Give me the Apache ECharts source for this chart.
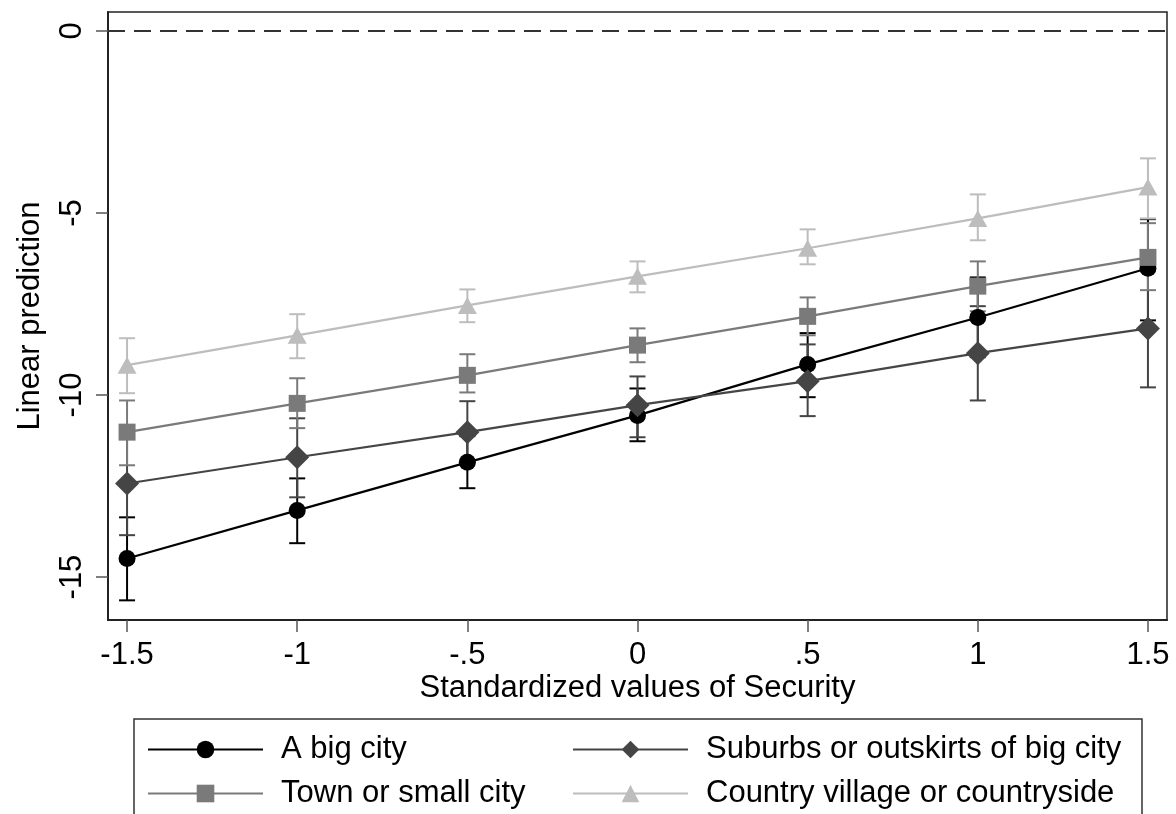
<!DOCTYPE html>
<html>
<head>
<meta charset="utf-8">
<script src="https://cdn.jsdelivr.net/npm/echarts@6/dist/echarts.min.js"></script>
<style>
html,body{margin:0;padding:0;background:#fff;}
#chart{width:1176px;height:814px;}
</style>
</head>
<body>
<div id="chart"></div>
<script>
// ---- data ----
const xValues = [-1.5, -1, -0.5, 0, 0.5, 1, 1.5];
const xTickLabels = ['-1.5', '-1', '-.5', '0', '.5', '1', '1.5'];
const yTicks = [-15, -10, -5, 0];
const seriesNames = ['A big city', 'Suburbs or outskirts of big city', 'Town or small city', 'Country village or countryside'];

const bigCity      = [-14.49, -13.17, -11.85, -10.56, -9.16, -7.87, -6.52];
const bigCityLow   = [-15.64, -14.07, -12.56, -11.27, -10.06, -8.96, -7.95];
const bigCityHigh  = [-13.36, -12.29, -11.13, -9.82, -8.30, -6.77, -5.17];

const suburbs      = [-12.43, -11.71, -11.02, -10.28, -9.62, -8.85, -8.17];
const suburbsLow   = [-13.85, -12.81, -11.88, -11.16, -10.58, -10.15, -9.79];
const suburbsHigh  = [-11.00, -10.64, -10.17, -9.49, -8.61, -7.56, -6.55];

const town         = [-11.02, -10.23, -9.46, -8.63, -7.84, -7.01, -6.22];
const townLow      = [-11.93, -10.91, -9.93, -9.10, -8.36, -7.70, -7.12];
const townHigh     = [-10.15, -9.54, -8.88, -8.17, -7.32, -6.33, -5.28];

const country      = [-9.18, -8.36, -7.54, -6.74, -5.97, -5.15, -4.29];
const countryLow   = [-9.95, -8.99, -8.00, -7.18, -6.41, -5.75, -5.15];
const countryHigh  = [-8.44, -7.78, -7.10, -6.33, -5.45, -4.49, -3.50];

// ---- styles ----
const FONT = '"Liberation Sans", Arial, sans-serif';
const FS = 31;
const colors = ['#000000', '#454545', '#7a7a7a', '#bdbdbd'];
const symbols = ['circle', 'diamond', 'rect', 'triangle'];
const symbolSizes = [17, [24, 24], 17, [19, 17]];
const mids = [bigCity, suburbs, town, country];
const lows = [bigCityLow, suburbsLow, townLow, countryLow];
const highs = [bigCityHigh, suburbsHigh, townHigh, countryHigh];

function errorSeries(idx) {
  const data = xValues.map((x, i) => [x, lows[idx][i], highs[idx][i]]);
  return {
    type: 'custom',
    name: seriesNames[idx] + ' CI',
    data: data,
    silent: true,
    encode: { x: 0, y: [1, 2] },
    renderItem: function (params, api) {
      const x = api.value(0);
      const lo = api.coord([x, api.value(1)]);
      const hi = api.coord([x, api.value(2)]);
      const hw = 8;
      const style = { stroke: colors[idx], lineWidth: 2, fill: null };
      return {
        type: 'group',
        children: [
          { type: 'line', shape: { x1: lo[0], y1: lo[1], x2: hi[0], y2: hi[1] }, style: style },
          { type: 'line', shape: { x1: lo[0] - hw, y1: lo[1], x2: lo[0] + hw, y2: lo[1] }, style: style },
          { type: 'line', shape: { x1: hi[0] - hw, y1: hi[1], x2: hi[0] + hw, y2: hi[1] }, style: style }
        ]
      };
    },
    z: 2
  };
}

function lineSeries(idx) {
  return {
    type: 'line',
    name: seriesNames[idx],
    data: xValues.map((x, i) => [x, mids[idx][i]]),
    symbol: symbols[idx],
    symbolSize: symbolSizes[idx],
    showSymbol: true,
    itemStyle: { color: colors[idx], borderWidth: 0 },
    lineStyle: { color: colors[idx], width: 2.2 },
    emphasis: { disabled: true },
    z: 3
  };
}

const series = [];
for (let i = 0; i < 4; i++) {
  series.push(errorSeries(i));
  series.push(lineSeries(i));
}
series[0].markLine = {
  silent: true,
  symbol: 'none',
  label: { show: false },
  lineStyle: { type: [17, 9], color: '#333', width: 2 },
  data: [{ yAxis: 0 }]
};

const legendPos = [
  { left: 147, top: 734 },
  { left: 572, top: 734 },
  { left: 147, top: 778 },
  { left: 572, top: 778 }
];
const legends = seriesNames.map((n, i) => ({
  data: [n],
  left: legendPos[i].left,
  top: legendPos[i].top,
  padding: 0,
  itemWidth: 115,
  itemHeight: 22,
  selectedMode: false,
  textStyle: { fontFamily: FONT, fontSize: FS, color: '#000', padding: [0, 0, 0, 13] }
}));

const chart = echarts.init(document.getElementById('chart'), null, { renderer: 'canvas' });
chart.setOption({
  animation: false,
  backgroundColor: '#fff',
  grid: {
    left: 108, right: 9, top: 12, bottom: 194,
    outerBoundsMode: 'none',
    containLabel: false,
    show: true, borderColor: '#222', borderWidth: 1.5, backgroundColor: 'transparent'
  },
  xAxis: {
    type: 'value',
    min: -1.556, max: 1.556,
    name: 'Standardized values of Security',
    nameLocation: 'middle',
    nameGap: 53,
    nameMoveOverlap: false,
    nameTextStyle: { fontFamily: FONT, fontSize: FS, color: '#000' },
    axisLine: { show: true, onZero: false, lineStyle: { color: '#222', width: 2 } },
    axisTick: { show: true, inside: false, length: 12, lineStyle: { color: '#555', width: 1.5 }, customValues: xValues },
    axisLabel: {
      fontFamily: FONT, fontSize: FS, color: '#000', margin: 20,
      customValues: xValues,
      formatter: function (v) {
        const i = xValues.findIndex(x => Math.abs(x - v) < 1e-6);
        return i >= 0 ? xTickLabels[i] : '';
      }
    },
    splitLine: { show: false }
  },
  yAxis: {
    type: 'value',
    min: -16.18, max: 0.52,
    name: 'Linear prediction',
    nameLocation: 'middle',
    nameGap: 62,
    nameMoveOverlap: false,
    nameTextStyle: { fontFamily: FONT, fontSize: FS, color: '#000' },
    axisLine: { show: true, onZero: false, lineStyle: { color: '#222', width: 2 } },
    axisTick: { show: true, inside: false, length: 12, lineStyle: { color: '#555', width: 1.5 }, customValues: yTicks },
    axisLabel: {
      fontFamily: FONT, fontSize: FS, color: '#000', margin: 20, rotate: 90,
      customValues: yTicks,
      formatter: function (v) { return String(v); }
    },
    splitLine: { show: false }
  },
  legend: legends,
  graphic: [{
    type: 'rect',
    silent: true,
    shape: { x: 134, y: 719, width: 1008, height: 130 },
    style: { fill: null, stroke: '#333', lineWidth: 1.5 }
  }],
  series: series
});
</script>
</body>
</html>
